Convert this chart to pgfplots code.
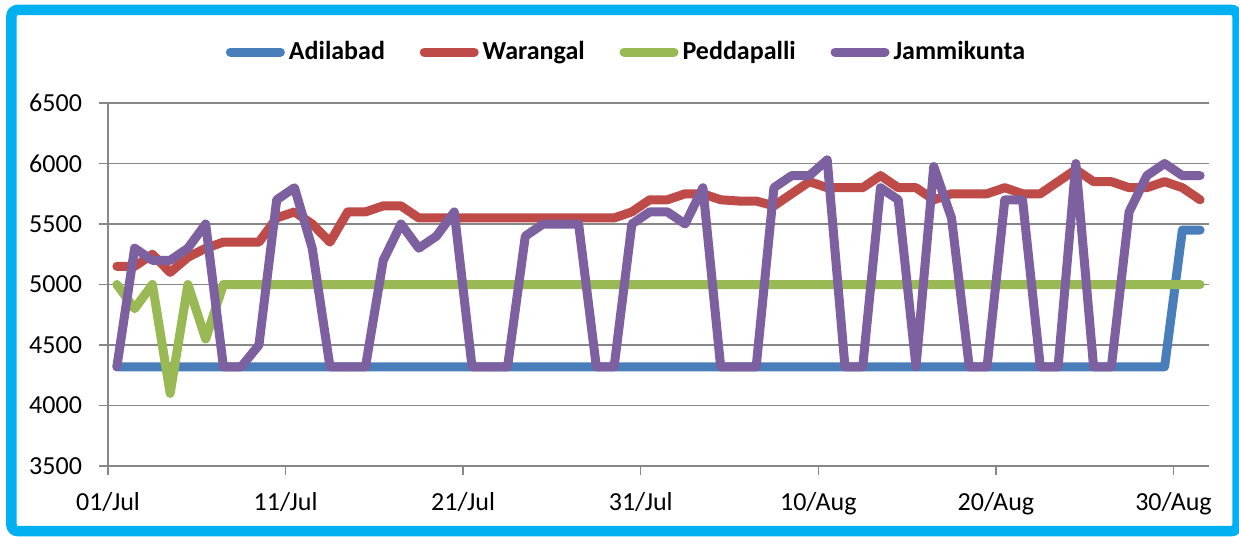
\documentclass[border=0pt]{standalone}
\usepackage{fontspec}
\setmainfont{Carlito}
\usepackage{pgfplots}
\pgfplotsset{compat=1.18}
\definecolor{cAdi}{HTML}{4A7EBB}
\definecolor{cWar}{HTML}{BE4B48}
\definecolor{cPed}{HTML}{98B954}
\definecolor{cJam}{HTML}{7D60A0}
\definecolor{cFrame}{HTML}{00B0F0}
\definecolor{cGrid}{HTML}{878787}
\begin{document}
\begin{tikzpicture}
\begin{axis}[
  width=550.5pt, height=181.5pt, scale only axis,
  xmin=-0.5, xmax=61.5, ymin=3500, ymax=6500,
  axis lines=left,
  axis line style={-, draw=cGrid, line width=0.75pt},
  xtick={-0.5,9.5,19.5,29.5,39.5,49.5,59.5},
  xticklabels={01/Jul,11/Jul,21/Jul,31/Jul,10/Aug,20/Aug,30/Aug},
  ytick={3500,4000,4500,5000,5500,6000,6500},
  ymajorgrids,
  grid style={draw=cGrid, line width=0.75pt},
  tick align=outside,
  major tick length=4.5pt,
  tick style={draw=cGrid, line width=0.75pt},
  ticklabel style={font=\fontsize{13}{15}\selectfont},
  xticklabel style={yshift=-5pt},
  yticklabel style={xshift=-5pt, /pgf/number format/1000 sep={}},
  /pgf/number format/assume math mode=true,
  legend columns=4,
  legend style={at={(0.5,1)}, anchor=center, xshift=-15.5pt, yshift=25.5pt,
    draw=none, fill=none, font=\fontsize{13}{15}\selectfont\bfseries,
    /tikz/every even column/.append style={column sep=15.4pt}},
  legend image code/.code={\draw[#1, line cap=round] (0pt,0pt) -- (25pt,0pt);},
  every axis plot/.append style={line width=4.5pt, line join=round, line cap=round},
  clip=false,
]
\addplot[cAdi] coordinates {
(0,4320)(1,4320)(2,4320)(3,4320)(4,4320)(5,4320)(6,4320)(7,4320)(8,4320)(9,4320)
(10,4320)(11,4320)(12,4320)(13,4320)(14,4320)(15,4320)(16,4320)(17,4320)(18,4320)(19,4320)
(20,4320)(21,4320)(22,4320)(23,4320)(24,4320)(25,4320)(26,4320)(27,4320)(28,4320)(29,4320)
(30,4320)(31,4320)(32,4320)(33,4320)(34,4320)(35,4320)(36,4320)(37,4320)(38,4320)(39,4320)
(40,4320)(41,4320)(42,4320)(43,4320)(44,4320)(45,4320)(46,4320)(47,4320)(48,4320)(49,4320)
(50,4320)(51,4320)(52,4320)(53,4320)(54,4320)(55,4320)(56,4320)(57,4320)(58,4320)(59,4320)
(60,5450)(61,5450)};
\addlegendentry{Adilabad}
\addplot[cWar] coordinates {
(0,5150)(1,5150)(2,5250)(3,5100)(4,5225)(5,5300)(6,5350)(7,5350)(8,5350)(9,5550)
(10,5600)(11,5500)(12,5350)(13,5600)(14,5600)(15,5650)(16,5650)(17,5550)(18,5550)(19,5550)
(20,5550)(21,5550)(22,5550)(23,5550)(24,5550)(25,5550)(26,5550)(27,5550)(28,5550)(29,5600)
(30,5700)(31,5700)(32,5750)(33,5750)(34,5700)(35,5690)(36,5690)(37,5650)(38,5750)(39,5850)
(40,5800)(41,5800)(42,5800)(43,5900)(44,5800)(45,5800)(46,5700)(47,5750)(48,5750)(49,5750)
(50,5800)(51,5750)(52,5750)(53,5850)(54,5950)(55,5850)(56,5850)(57,5800)(58,5800)(59,5850)
(60,5800)(61,5700)};
\addlegendentry{Warangal}
\addplot[cPed] coordinates {
(0,5000)(1,4800)(2,5000)(3,4100)(4,5000)(5,4550)(6,5000)(7,5000)(8,5000)(9,5000)
(10,5000)(11,5000)(12,5000)(13,5000)(14,5000)(15,5000)(16,5000)(17,5000)(18,5000)(19,5000)
(20,5000)(21,5000)(22,5000)(23,5000)(24,5000)(25,5000)(26,5000)(27,5000)(28,5000)(29,5000)
(30,5000)(31,5000)(32,5000)(33,5000)(34,5000)(35,5000)(36,5000)(37,5000)(38,5000)(39,5000)
(40,5000)(41,5000)(42,5000)(43,5000)(44,5000)(45,5000)(46,5000)(47,5000)(48,5000)(49,5000)
(50,5000)(51,5000)(52,5000)(53,5000)(54,5000)(55,5000)(56,5000)(57,5000)(58,5000)(59,5000)
(60,5000)(61,5000)};
\addlegendentry{Peddapalli}
\addplot[cJam] coordinates {
(0,4320)(1,5300)(2,5200)(3,5200)(4,5300)(5,5500)(6,4320)(7,4320)(8,4500)(9,5700)
(10,5800)(11,5300)(12,4320)(13,4320)(14,4320)(15,5200)(16,5500)(17,5300)(18,5400)(19,5600)
(20,4320)(21,4320)(22,4320)(23,5400)(24,5500)(25,5500)(26,5500)(27,4320)(28,4320)(29,5500)
(30,5600)(31,5600)(32,5500)(33,5800)(34,4320)(35,4320)(36,4320)(37,5800)(38,5900)(39,5900)
(40,6030)(41,4320)(42,4320)(43,5800)(44,5700)(45,4320)(46,5975)(47,5550)(48,4320)(49,4320)
(50,5700)(51,5700)(52,4320)(53,4320)(54,6000)(55,4320)(56,4320)(57,5600)(58,5900)(59,6000)
(60,5900)(61,5900)};
\addlegendentry{Jammikunta}
\end{axis}
\draw[cFrame, line width=5.25pt, rounded corners=3pt]
  ([shift={(-48.25pt,-32.5pt)}]current axis.south west) rectangle
  ([shift={(14.25pt,46.5pt)}]current axis.north east);
\pgfresetboundingbox
\useasboundingbox ([shift={(-54pt,-35pt)}]current axis.south west) rectangle
  ([shift={(15pt,51.5pt)}]current axis.north east);
\end{tikzpicture}
\end{document}
